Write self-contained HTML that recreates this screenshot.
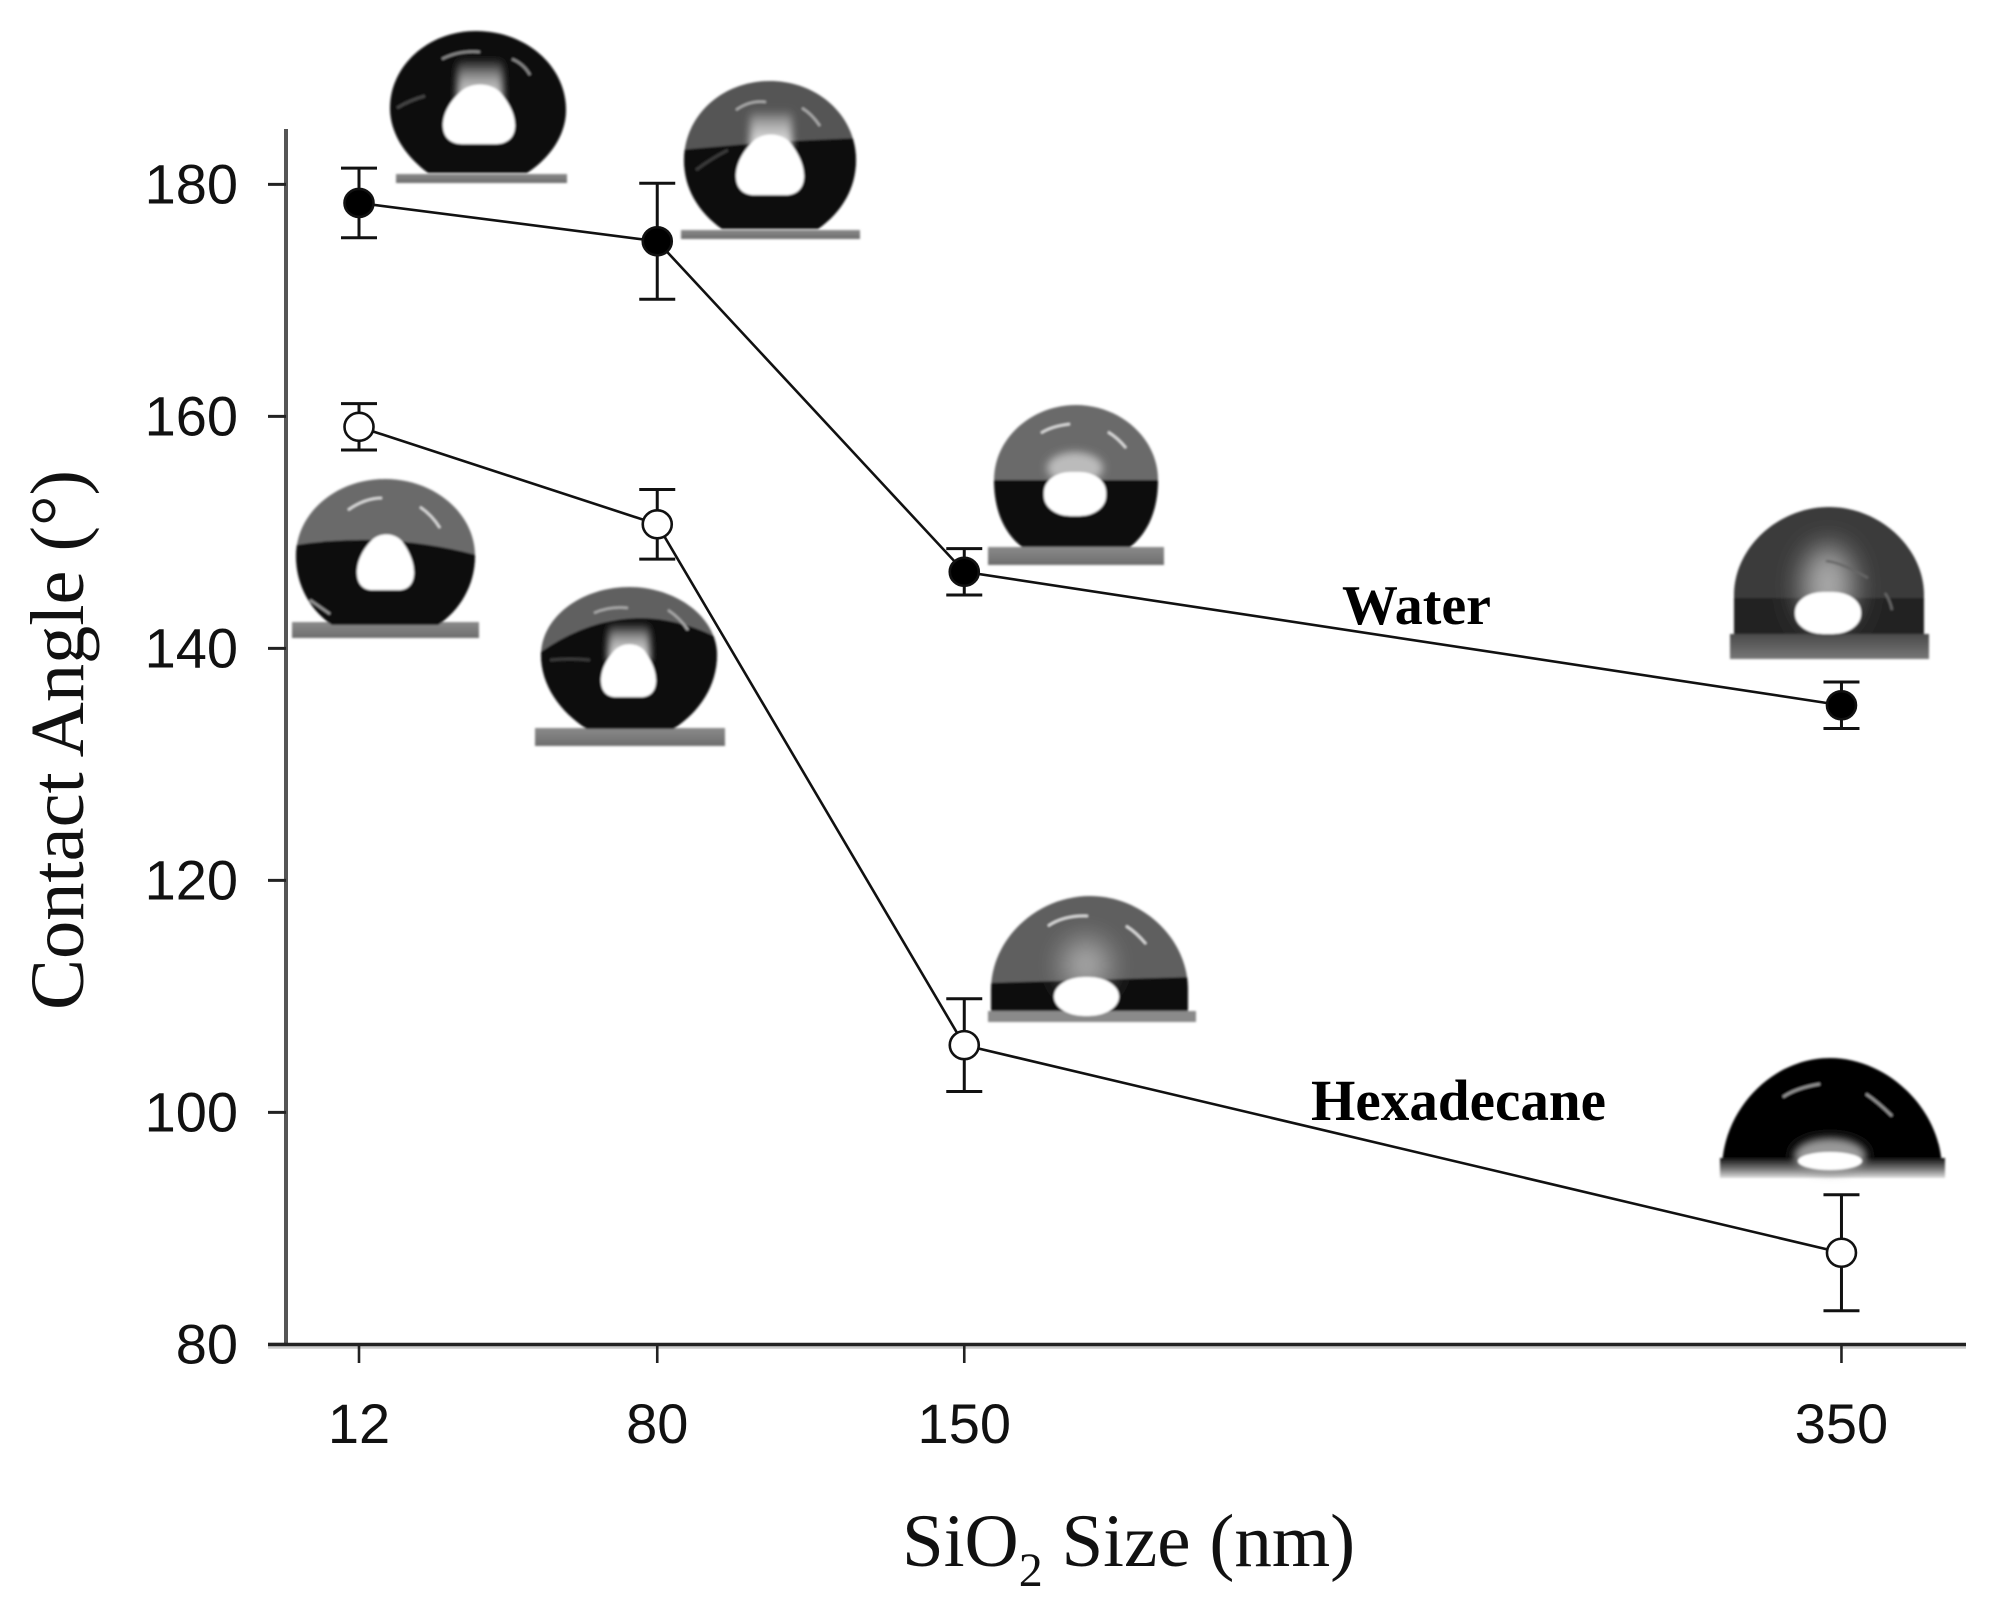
<!DOCTYPE html>
<html lang="en">
<head>
<meta charset="utf-8">
<title>Contact Angle vs SiO2 Size</title>
<style>
html,body{margin:0;padding:0;background:#fff;}
svg{display:block;}
</style>
</head>
<body>
<svg id="chart" xmlns="http://www.w3.org/2000/svg" width="2008" height="1617" viewBox="0 0 2008 1617">
<defs>
<filter id="soft" x="-10%" y="-10%" width="120%" height="120%"><feGaussianBlur stdDeviation="1.1"/></filter>
<filter id="glow" x="-50%" y="-50%" width="200%" height="200%"><feGaussianBlur stdDeviation="4"/></filter>
<filter id="glowBig" x="-80%" y="-80%" width="260%" height="260%"><feGaussianBlur stdDeviation="14"/></filter>
<filter id="all" x="0" y="0" width="100%" height="100%"><feGaussianBlur stdDeviation="0.5"/></filter>
<linearGradient id="plate" x1="0" y1="0" x2="0" y2="1"><stop offset="0" stop-color="#8a8a8a"/><stop offset="1" stop-color="#6e6e6e"/></linearGradient>
<linearGradient id="plateF" x1="0" y1="0" x2="0" y2="1"><stop offset="0" stop-color="#4a4a4a"/><stop offset="1" stop-color="#777"/></linearGradient>
<linearGradient id="hexBase" x1="0" y1="0" x2="0" y2="1"><stop offset="0" stop-color="#111"/><stop offset="0.55" stop-color="#777"/><stop offset="1" stop-color="#ddd"/></linearGradient>
<linearGradient id="fadeUp" x1="0" y1="0" x2="0" y2="1"><stop offset="0" stop-color="#fff" stop-opacity="0"/><stop offset="0.45" stop-color="#ccc" stop-opacity="0.8"/><stop offset="1" stop-color="#fff"/></linearGradient>
<path id="core" d="M.24 .16C.10 .31 0 .5 0 .70C0 .91 .125 1 .26 1L.74 1C.875 1 1 .91 1 .70C1 .5 .9 .31 .79 .16C.65 0 .38 0 .24 .16Z" fill="#fff"/>
<clipPath id="clipB"><path d="M722 229C698 212 684 188 684 160C684 116 722 81 770 81C818 81 856 116 856 160C856 188 842 212 818 229Z"/></clipPath>
<clipPath id="clipC"><path d="M332 625C310 610 296 585 296 556C296 513 336 479 385 479C434 479 475 513 475 556C475 585 460 610 438 625Z"/></clipPath>
<clipPath id="clipD"><path d="M587 729C560 712 541 685 541 655C541 617 582 587 629 587C676 587 717 617 717 655C717 685 700 712 673 729Z"/></clipPath>
<clipPath id="clipE"><path d="M1022 547C1004 533 994 510 994 480C994 438 1032 405 1076 405C1120 405 1158 438 1158 480C1158 510 1148 533 1130 547Z"/></clipPath>
<clipPath id="clipF"><path d="M1734 634L1734 595C1734 548 1778 507 1829 507C1880 507 1924 548 1924 595L1924 634Z"/></clipPath>
<clipPath id="clipG"><path d="M991 1011L991 990C991 938 1038 896 1090 896C1142 896 1188 938 1188 990L1188 1011Z"/></clipPath>
</defs>
<rect x="0" y="0" width="2008" height="1617" fill="#fff"/>

<g id="droplets">
  <g filter="url(#soft)">
    <rect x="396" y="174" width="171" height="9" fill="url(#plate)"/>
    <path d="M428 173C404 155 390 132 390 108C390 66 428 31 476 31C526 31 566 66 566 110C566 135 550 158 527 173Z" fill="#0b0b0b"/>
    <rect x="457" y="58" width="46" height="50" fill="url(#fadeUp)" filter="url(#glow)"/>
    <use href="#core" transform="translate(443,82) scale(72,62)"/>
    <path d="M442 59Q460 50 480 52M512 59Q524 64 530 75" fill="none" stroke="#8a8a8a" stroke-width="2.5"/>
    <path d="M397 108Q410 100 425 96" fill="none" stroke="#444" stroke-width="3"/>
  </g>
  <g filter="url(#soft)">
    <rect x="681" y="230" width="179" height="9" fill="url(#plate)"/>
    <g clip-path="url(#clipB)">
      <rect x="680" y="78" width="180" height="155" fill="#555"/>
      <path d="M680 150L770 142L860 138L860 232L680 232Z" fill="#0a0a0a"/>
    </g>
    <rect x="750" y="110" width="42" height="40" fill="url(#fadeUp)" filter="url(#glow)"/>
    <use href="#core" transform="translate(736,132) scale(68,63)"/>
    <path d="M736 110Q750 100 766 102M802 108Q812 114 820 126" fill="none" stroke="#aaa" stroke-width="2.5"/>
    <path d="M696 170Q712 158 728 150" fill="none" stroke="#3a3a3a" stroke-width="3"/>
  </g>
  <g filter="url(#soft)">
    <rect x="292" y="622" width="187" height="16" fill="url(#plate)"/>
    <g clip-path="url(#clipC)">
      <rect x="290" y="476" width="190" height="152" fill="#6a6a6a"/>
      <path d="M290 546Q385 530 480 556L480 628L290 628Z" fill="#070707"/>
    </g>
    <use href="#core" transform="translate(357,532) scale(57,58)"/>
    <path d="M348 510Q365 498 382 498M420 507Q432 515 440 528" fill="none" stroke="#ddd" stroke-width="2.5"/>
    <path d="M310 600L330 614" fill="none" stroke="#999" stroke-width="2.5"/>
  </g>
  <g filter="url(#soft)">
    <rect x="535" y="728" width="190" height="18" fill="url(#plate)"/>
    <g clip-path="url(#clipD)">
      <rect x="538" y="585" width="182" height="147" fill="#606060"/>
      <path d="M538 654Q627 590 722 640L722 732L538 732Z" fill="#080808"/>
    </g>
    <rect x="608" y="622" width="42" height="40" fill="url(#fadeUp)" filter="url(#glow)"/>
    <use href="#core" transform="translate(601,642) scale(55,55)"/>
    <path d="M594 613Q610 606 628 608M668 610Q680 618 688 630" fill="none" stroke="#aaa" stroke-width="2.5"/>
    <path d="M550 660Q570 658 590 660" fill="none" stroke="#3a3a3a" stroke-width="3"/>
  </g>
  <g filter="url(#soft)">
    <rect x="988" y="547" width="176" height="18" fill="url(#plate)"/>
    <g clip-path="url(#clipE)">
      <rect x="985" y="402" width="180" height="80" fill="#6b6b6b"/>
      <rect x="985" y="480" width="180" height="70" fill="#070707"/>
      <ellipse cx="1075" cy="468" rx="28" ry="16" fill="#bbb" filter="url(#glow)"/>
    </g>
    <rect x="1044" y="472" width="62" height="44" rx="26" ry="20" fill="#fff"/>
    <path d="M1041 433Q1052 426 1070 424M1108 432Q1118 438 1126 448" fill="none" stroke="#ddd" stroke-width="2.5"/>
  </g>
  <g filter="url(#soft)">
    <rect x="1730" y="634" width="199" height="25" fill="url(#plateF)"/>
    <g clip-path="url(#clipF)">
      <rect x="1730" y="504" width="198" height="132" fill="#3a3a3a"/>
      <rect x="1730" y="598" width="198" height="38" fill="#242424"/>
      <ellipse cx="1828" cy="585" rx="26" ry="40" fill="#aaa" filter="url(#glowBig)"/>
    </g>
    <rect x="1795" y="592" width="66" height="42" rx="28" ry="20" fill="#fff"/>
    <path d="M1826 561Q1840 562 1868 578M1885 593Q1890 600 1892 610" fill="none" stroke="#666" stroke-width="2.5"/>
  </g>
  <g filter="url(#soft)">
    <rect x="988" y="1011" width="208" height="11" fill="#8a8a8a"/>
    <g clip-path="url(#clipG)">
      <rect x="988" y="893" width="204" height="90" fill="#5e5e5e"/>
      <path d="M988 983L1192 977L1192 1012L988 1012Z" fill="#0c0c0c"/>
      <ellipse cx="1086" cy="965" rx="24" ry="26" fill="#aaa" filter="url(#glowBig)"/>
    </g>
    <rect x="1054" y="977" width="65" height="39" rx="30" ry="20" fill="#fff"/>
    <path d="M1048 926Q1064 915 1088 916M1126 926Q1136 932 1146 944" fill="none" stroke="#ddd" stroke-width="2.5"/>
  </g>
  <g filter="url(#soft)">
    <path d="M1722 1170C1722 1110 1772 1058 1830 1058C1888 1058 1942 1110 1942 1170L1945 1178L1720 1178Z" fill="#060606"/>
    <rect x="1720" y="1158" width="225" height="20" fill="url(#hexBase)"/>
    <ellipse cx="1830" cy="1156" rx="36" ry="18" fill="#999" filter="url(#glow)"/>
    <ellipse cx="1830" cy="1161" rx="32" ry="9" fill="#fff"/>
    <path d="M1783 1097Q1796 1088 1820 1084M1866 1094Q1878 1102 1892 1116" fill="none" stroke="#999" stroke-width="2.5"/>
  </g>
</g>

<g id="axes"></g>
<g id="marks"></g>

<text transform="translate(83,1010) rotate(-90)" x="0" y="0" font-family="'Liberation Serif',serif" font-size="76" fill="#111" textLength="540" lengthAdjust="spacingAndGlyphs">Contact Angle (°)</text>
<text x="902" y="1566" font-family="'Liberation Serif',serif" font-size="75" fill="#111">SiO<tspan font-size="48" dy="20">2</tspan><tspan dy="-20"> Size (nm)</tspan></text>
<text x="1342" y="624" font-family="'Liberation Serif',serif" font-weight="bold" font-size="56" fill="#000" textLength="149" lengthAdjust="spacingAndGlyphs">Water</text>
<text x="1311" y="1120" font-family="'Liberation Serif',serif" font-weight="bold" font-size="58" fill="#000" textLength="295" lengthAdjust="spacingAndGlyphs">Hexadecane</text>
</svg>

<script>
const sizes = [12, 80, 150, 350];
const yTickValues = [80, 100, 120, 140, 160, 180];
const waterAngle = [178.4, 175.1, 146.6, 135.1];
const waterErr = [3.0, 5.0, 2.0, 2.0];
const hexadecaneAngle = [159.1, 150.7, 105.8, 87.9];
const hexadecaneErr = [2.0, 3.0, 4.0, 5.0];

const NS = 'http://www.w3.org/2000/svg';
const xScale = function (v) { return 359 + (v - 12) * 4.386; };
const yScale = function (v) { return 1344.4 - (v - 80) * 11.6; };

function make(tag, attrs, parent) {
  const el = document.createElementNS(NS, tag);
  for (const k in attrs) el.setAttribute(k, attrs[k]);
  parent.appendChild(el);
  return el;
}

const axes = document.getElementById('axes');
const marks = document.getElementById('marks');

const yAxis = make('line', { x1: 286, y1: 129, x2: 286, y2: 1346, stroke: '#555', 'stroke-width': 4 }, axes);



const xShadow = make('line', { x1: 268, y1: 1347.5, x2: 1966, y2: 1347.5, stroke: '#ccc', 'stroke-width': 2.5 }, axes);



const xAxis = make('line', { x1: 268, y1: 1344.5, x2: 1966, y2: 1344.5, stroke: '#222', 'stroke-width': 3.6 }, axes);



yTickValues.forEach(function (v) {
  const y = yScale(v);
  const tick = make('line', { x1: 268, y1: y, x2: 286, y2: y, stroke: '#222', 'stroke-width': 3 }, axes);
  
  
  const label = make('text', { x: 238, y: y + 19, 'text-anchor': 'end', 'font-family': "'Liberation Sans',sans-serif", 'font-size': 56, fill: '#111' }, axes);
  
  
  label.textContent = v;
});

sizes.forEach(function (v) {
  const x = xScale(v);
  const tick = make('line', { x1: x, y1: 1344, x2: x, y2: 1363, stroke: '#222', 'stroke-width': 2.6 }, axes);
  
  
  const label = make('text', { x: x, y: 1443, 'text-anchor': 'middle', 'font-family': "'Liberation Sans',sans-serif", 'font-size': 56, fill: '#111' }, axes);
  
  
  label.textContent = v;
});

function drawSeries(values, errs, markerFill, key) {
  const group = make('g', {}, marks);
  
  

  const pts = values.map(function (v, i) { return xScale(sizes[i]) + ',' + yScale(v); }).join(' ');
  const line = make('polyline', { points: pts, fill: 'none', stroke: '#111', 'stroke-width': 2.6 }, group);
  
  

  values.forEach(function (v, i) {
    const x = xScale(sizes[i]);
    const top = yScale(v + errs[i]);
    const bottom = yScale(v - errs[i]);
    const bar = make('path', {
      d: 'M' + (x - 18) + ' ' + top + 'H' + (x + 18) + 'M' + x + ' ' + top + 'V' + bottom + 'M' + (x - 18) + ' ' + bottom + 'H' + (x + 18),
      fill: 'none', stroke: '#111', 'stroke-width': 3
    }, group);
    
    
  });

  values.forEach(function (v, i) {
    const point = make('ellipse', { cx: xScale(sizes[i]), cy: yScale(v), rx: 14.5, ry: 14, fill: markerFill, stroke: '#111', 'stroke-width': 2.6 }, group);
    
    
  });
}

drawSeries(waterAngle, waterErr, '#000', 'water');
drawSeries(hexadecaneAngle, hexadecaneErr, '#fff', 'hexadecane');
</script>
</body>
</html>
